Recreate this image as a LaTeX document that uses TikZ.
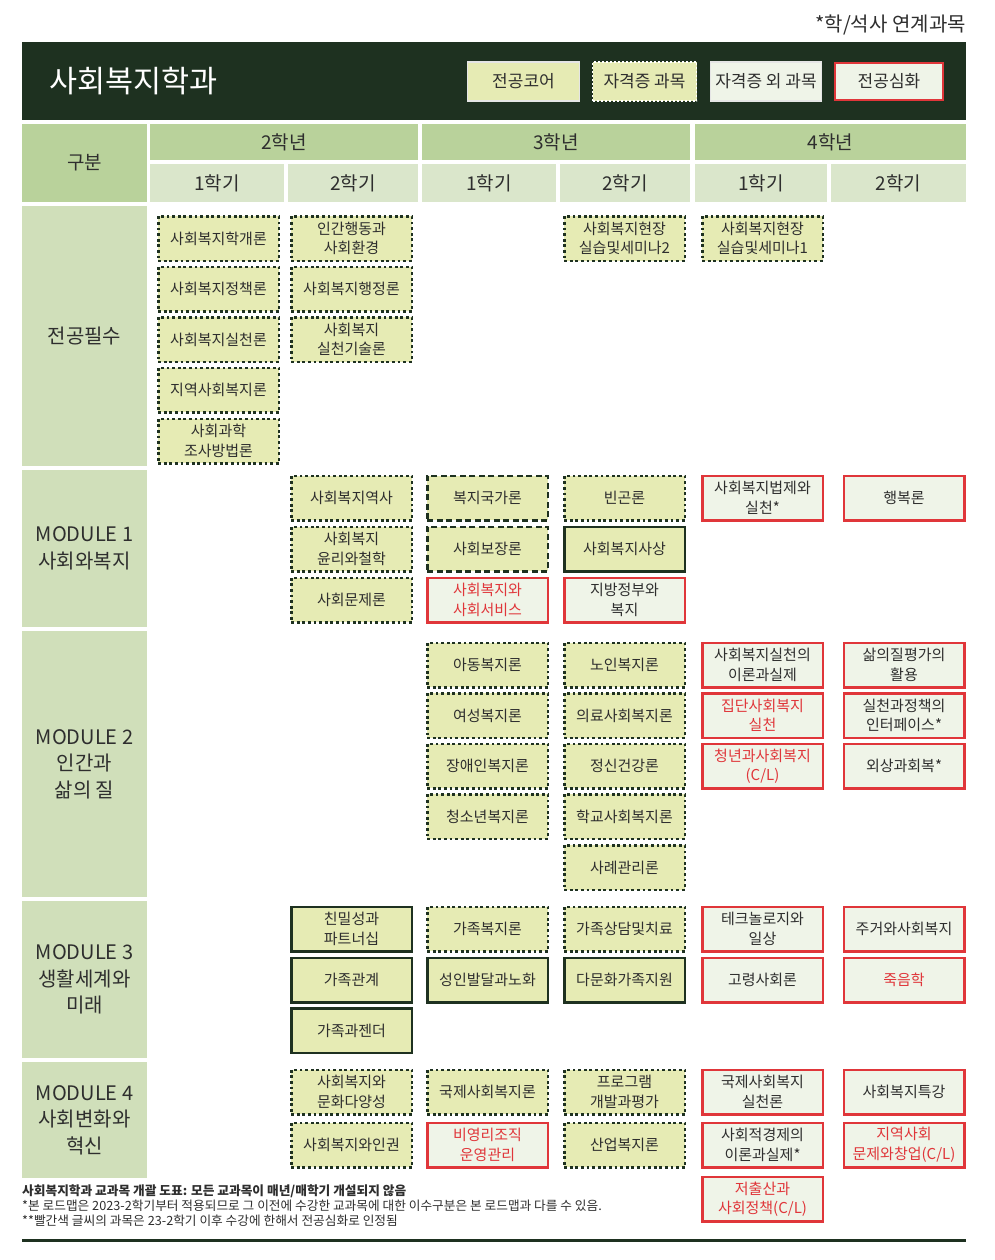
\documentclass[tikz,border=0pt]{standalone}
\usepackage{fontspec}
\setmainfont{Noto Sans CJK KR}
\usetikzlibrary{positioning}
\definecolor{darkbar}{HTML}{1E3120}
\definecolor{ink}{HTML}{2E2E2E}
\definecolor{yearfill}{HTML}{B9D29B}
\definecolor{semfill}{HTML}{DAE6CB}
\definecolor{labelfill}{HTML}{D0DFBA}
\definecolor{coursefill}{HTML}{E6EBB4}
\definecolor{plainfill}{HTML}{EFF4E8}
\definecolor{advred}{HTML}{E0363A}

\begin{document}
\begin{tikzpicture}[x=1pt,y=-1pt,
  every node/.style={text=ink},
  cell/.style={inner sep=0pt, align=center},
  hdr/.style={cell, font=\fontsize{19}{22}\selectfont},
  modlabel/.style={cell, fill=labelfill, minimum width=125pt, font=\fontsize{20}{26.5}\selectfont},
  box/.style={minimum width=120.5pt, minimum height=44.5pt, inner sep=0pt, align=center,
    line width=2.5pt, font=\fontsize{15}{19.5}\selectfont},
  core/.style={box, draw=darkbar, fill=coursefill},
  cert/.style={box, draw=darkbar, fill=coursefill, dash pattern=on 2.8pt off 2.8pt},
  certcore/.style={box, draw=darkbar, fill=coursefill, dash pattern=on 6pt off 3.5pt},
  adv/.style={box, draw=advred, fill=plainfill},
  advred/.style={adv, text=advred},
  legend/.style={cell, minimum height=39pt, font=\fontsize{17}{20}\selectfont},
  note/.style={anchor=west, inner sep=0pt, font=\fontsize{12.7}{15}\selectfont}]
\useasboundingbox (0,0) rectangle (994,1260);

% title bar and legend
\node[anchor=east, inner sep=0pt, font=\fontsize{20}{24}\selectfont] (linked) at (966,25) {*학/석사 연계과목};
\fill[darkbar] (22,42) rectangle (966,120);
\node[anchor=west, inner sep=0pt, text=white, font=\fontsize{30.5}{36}\selectfont] (title) at (49,81) {사회복지학과};
\node[legend, fill=coursefill, draw=white!80!gray, line width=1.5pt, minimum width=112pt] (lgcore) at (523.5,81.5) {전공코어};
\node[legend, fill=coursefill, draw=white, line width=1.5pt, dash pattern=on 2pt off 2pt, minimum width=104pt] (lgcert) at (644.5,81.5) {자격증 과목};
\node[legend, fill=plainfill, draw=white!80!gray, line width=1.5pt, minimum width=111pt] (lgplain) at (766,81.5) {자격증 외 과목};
\node[legend, fill=plainfill, draw=advred, line width=2.5pt, minimum width=108pt, minimum height=37pt] (lgadv) at (889,81.5) {전공심화};

% header
\node[hdr, fill=yearfill, minimum width=125pt, minimum height=78pt] (gubun) at (84.5,163) {구분};
\node[hdr, fill=yearfill, minimum width=268pt, minimum height=36pt] (y2) at (284,142) {2학년};
\node[hdr, fill=yearfill, minimum width=268pt, minimum height=36pt] (y3) at (556,142) {3학년};
\node[hdr, fill=yearfill, minimum width=271pt, minimum height=36pt] (y4) at (830.5,142) {4학년};
\foreach \x/\w/\t [count=\i] in {217/134/1학기, 353/130/2학기, 489/134/1학기, 625/130/2학기, 761/132/1학기, 898.5/135/2학기}
  \node[hdr, fill=semfill, minimum width=\w pt, minimum height=38pt] (sem\i) at (\x,183) {\t};

% row labels
\node[modlabel, minimum height=260pt] (major) at (84.5,336) {전공필수};
\node[modlabel, minimum height=157pt] (mod1) at (84.5,548.5) {MODULE 1\\사회와복지};
\node[modlabel, minimum height=266pt] (mod2) at (84.5,764) {MODULE 2\\인간과\\삶의 질};
\node[modlabel, minimum height=157pt] (mod3) at (84.5,979.5) {MODULE 3\\생활세계와\\미래};
\node[modlabel, minimum height=116pt] (mod4) at (84.5,1120) {MODULE 4\\사회변화와\\혁신};

% 전공필수
\path
(218.5,238.5) node[cert] (m11) {사회복지학개론}
(218.5,289) node[cert] (m12) {사회복지정책론}
(218.5,339.5) node[cert] (m13) {사회복지실천론}
(218.5,390) node[cert] (m14) {지역사회복지론}
(218.5,441) node[cert] (m15) {사회과학\\조사방법론}
(351.5,238.5) node[cert] (m21) {인간행동과\\사회환경}
(351.5,289) node[cert] (m22) {사회복지행정론}
(351.5,339.5) node[cert] (m23) {사회복지\\실천기술론}
(624.5,238.5) node[cert] (m41) {사회복지현장\\실습및세미나2}
(762.5,238.5) node[cert] (m51) {사회복지현장\\실습및세미나1};

% MODULE 1
\path
(351.5,498) node[cert] (a21) {사회복지역사}
(351.5,549) node[cert] (a22) {사회복지\\윤리와철학}
(351.5,600) node[cert] (a23) {사회문제론}
(487.5,498) node[certcore] (a31) {복지국가론}
(487.5,549) node[certcore] (a32) {사회보장론}
(487.5,600) node[advred] (a33) {사회복지와\\사회서비스}
(624.5,498) node[cert] (a41) {빈곤론}
(624.5,549) node[core] (a42) {사회복지사상}
(624.5,600) node[adv] (a43) {지방정부와\\복지}
(762.5,498) node[adv] (a51) {사회복지법제와\\실천*}
(904,498) node[adv] (a61) {행복론};

% MODULE 2
\path
(487.5,665) node[cert] (b31) {아동복지론}
(487.5,715.5) node[cert] (b32) {여성복지론}
(487.5,766) node[cert] (b33) {장애인복지론}
(487.5,816.5) node[cert] (b34) {청소년복지론}
(624.5,665) node[cert] (b41) {노인복지론}
(624.5,715.5) node[cert] (b42) {의료사회복지론}
(624.5,766) node[cert] (b43) {정신건강론}
(624.5,816.5) node[cert] (b44) {학교사회복지론}
(624.5,867.5) node[cert] (b45) {사례관리론}
(762.5,665) node[adv] (b51) {사회복지실천의\\이론과실제}
(762.5,715.5) node[advred] (b52) {집단사회복지\\실천}
(762.5,766) node[advred] (b53) {청년과사회복지\\(C/L)}
(904,665) node[adv] (b61) {삶의질평가의\\활용}
(904,715.5) node[adv] (b62) {실천과정책의\\인터페이스*}
(904,766) node[adv] (b63) {외상과회복*};

% MODULE 3
\path
(351.5,929) node[core] (c21) {친밀성과\\파트너십}
(351.5,980) node[core] (c22) {가족관계}
(351.5,1030.5) node[core] (c23) {가족과젠더}
(487.5,929) node[cert] (c31) {가족복지론}
(487.5,980) node[core] (c32) {성인발달과노화}
(624.5,929) node[cert] (c41) {가족상담및치료}
(624.5,980) node[core] (c42) {다문화가족지원}
(762.5,929) node[adv] (c51) {테크놀로지와\\일상}
(762.5,980) node[adv] (c52) {고령사회론}
(904,929) node[adv] (c61) {주거와사회복지}
(904,980) node[advred] (c62) {죽음학};

% MODULE 4
\path
(351.5,1092) node[cert] (d21) {사회복지와\\문화다양성}
(351.5,1145) node[cert] (d22) {사회복지와인권}
(487.5,1092) node[cert] (d31) {국제사회복지론}
(487.5,1145) node[advred] (d32) {비영리조직\\운영관리}
(624.5,1092) node[cert] (d41) {프로그램\\개발과평가}
(624.5,1145) node[cert] (d42) {산업복지론}
(762.5,1092) node[adv] (d51) {국제사회복지\\실천론}
(762.5,1145) node[adv] (d52) {사회적경제의\\이론과실제*}
(762.5,1199) node[advred] (d53) {저출산과\\사회정책(C/L)}
(904,1092) node[adv] (d61) {사회복지특강}
(904,1145) node[advred] (d62) {지역사회\\문제와창업(C/L)};

% notes
\node[note, font=\bfseries\fontsize{12.7}{15}\selectfont] (note1) at (22,1191) {사회복지학과 교과목 개괄 도표: 모든 교과목이 매년/매학기 개설되지 않음};
\node[note] (note2) at (22,1206) {*본 로드맵은 2023-2학기부터 적용되므로 그  이전에 수강한 교과목에 대한 이수구분은 본 로드맵과 다를 수 있음.};
\node[note] (note3) at (22,1221) {**빨간색 글씨의 과목은 23-2학기 이후 수강에 한해서 전공심화로 인정됨};
\fill[darkbar] (22,1238.5) rectangle (966,1241.5);
\end{tikzpicture}
\end{document}
